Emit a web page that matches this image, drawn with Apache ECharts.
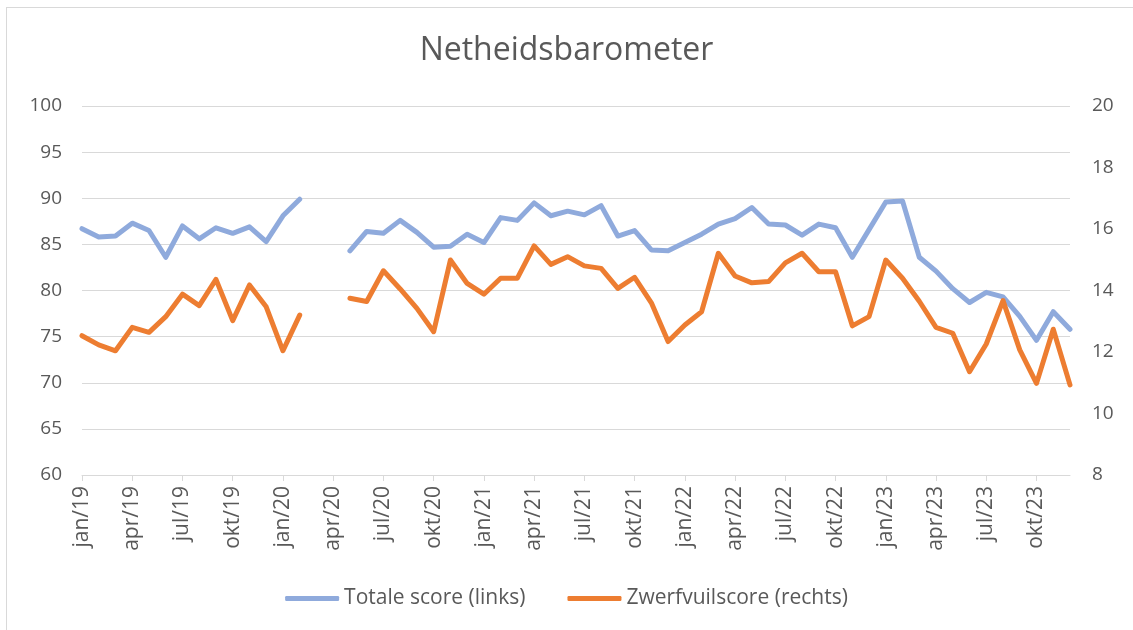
<!DOCTYPE html>
<html>
<head>
<meta charset="utf-8">
<script src="https://cdn.jsdelivr.net/npm/echarts@6/dist/echarts.min.js"></script>
<style>
  html, body { margin: 0; padding: 0; background: #fff; }
  #chart { width: 1133px; height: 630px; }
  .frame {
    position: absolute; left: 6px; top: 7px; width: 1200px; height: 700px;
    border: 1.5px solid #d9d9d9; pointer-events: none;
  }
</style>
</head>
<body>
<div id="chart"></div>
<div class="frame"></div>
<script>
// maanden jan/19 .. dec/23
var maanden = ['jan', 'feb', 'mrt', 'apr', 'mei', 'jun', 'jul', 'aug', 'sep', 'okt', 'nov', 'dec'];
var jaren = ['19', '20', '21', '22', '23'];
var categories = [];
jaren.forEach(function (j) {
    maanden.forEach(function (m) { categories.push(m + '/' + j); });
});

// Totale score (links)
var totaleScore = [
    86.7, 85.8, 85.9, 87.3, 86.5, 83.6, 87.0, 85.6, 86.8, 86.2, 86.9, 85.3,
    88.1, 89.9, null, null, 84.3, 86.4, 86.2, 87.6, 86.3, 84.7, 84.8, 86.1,
    85.2, 87.9, 87.6, 89.5, 88.1, 88.6, 88.2, 89.2, 85.9, 86.5, 84.4, 84.3,
    85.2, 86.1, 87.2, 87.8, 89.0, 87.2, 87.1, 86.0, 87.2, 86.8, 83.6, 86.6,
    89.6, 89.7, 83.6, 82.1, 80.2, 78.7, 79.8, 79.3, 77.2, 74.6, 77.7, 75.8
];

// Zwerfvuilscore (rechts)
var zwerfvuilScore = [
    12.53, 12.23, 12.04, 12.8, 12.64, 13.15, 13.88, 13.51, 14.36, 13.02, 14.18, 13.47,
    12.04, 13.2, null, null, 13.75, 13.64, 14.64, 14.05, 13.42, 12.66, 14.99, 14.23,
    13.88, 14.4, 14.4, 15.45, 14.85, 15.1, 14.8, 14.72, 14.07, 14.43, 13.6, 12.34,
    12.88, 13.31, 15.21, 14.47, 14.25, 14.29, 14.9, 15.21, 14.61, 14.61, 12.85, 13.15,
    14.99, 14.4, 13.65, 12.8, 12.61, 11.36, 12.26, 13.67, 12.07, 10.98, 12.74, 10.93
];

var tekst = '#595959';
var lijn = '#d9d9d9';
var font = 'Open Sans';

var myChart = echarts.init(document.getElementById('chart'));
myChart.setOption({
    animation: false,
    textStyle: { fontFamily: font },
    title: {
        text: 'Netheidsbarometer',
        left: 'center',
        top: 30,
        textStyle: { color: tekst, fontSize: 32, fontWeight: 'normal', fontFamily: font }
    },
    legend: {
        top: 583,
        left: 'center',
        icon: 'roundRect',
        itemWidth: 54,
        itemHeight: 5,
        itemGap: 42,
        textStyle: { color: tekst, fontSize: 21, fontFamily: font },
        data: ['Totale score (links)', 'Zwerfvuilscore (rechts)']
    },
    grid: { left: 82, right: 63, top: 106, bottom: 155 },
    xAxis: {
        type: 'category',
        boundaryGap: false,
        data: categories,
        axisLine: { lineStyle: { color: lijn, width: 1 } },
        axisTick: { interval: 2, length: 6, lineStyle: { color: lijn } },
        axisLabel: { interval: 2, rotate: 90, color: tekst, fontSize: 21, margin: 11 }
    },
    yAxis: [
        {
            type: 'value', min: 60, max: 100, interval: 5,
            axisLine: { show: false }, axisTick: { show: false },
            axisLabel: { color: tekst, fontSize: 19, margin: 20 },
            splitLine: { lineStyle: { color: lijn, width: 1 } }
        },
        {
            type: 'value', min: 8, max: 20, interval: 2,
            axisLine: { show: false }, axisTick: { show: false },
            axisLabel: { color: tekst, fontSize: 19, margin: 22 },
            splitLine: { show: false }
        }
    ],
    series: [
        {
            name: 'Totale score (links)',
            type: 'line',
            yAxisIndex: 0,
            data: totaleScore,
            showSymbol: false,
            symbol: 'none',
            connectNulls: false,
            lineStyle: { color: '#8faadc', width: 5, cap: 'round', join: 'round' },
            itemStyle: { color: '#8faadc' }
        },
        {
            name: 'Zwerfvuilscore (rechts)',
            type: 'line',
            yAxisIndex: 1,
            data: zwerfvuilScore,
            showSymbol: false,
            symbol: 'none',
            connectNulls: false,
            lineStyle: { color: '#ed7d31', width: 5, cap: 'round', join: 'round' },
            itemStyle: { color: '#ed7d31' }
        }
    ]
});
</script>
</body>
</html>
